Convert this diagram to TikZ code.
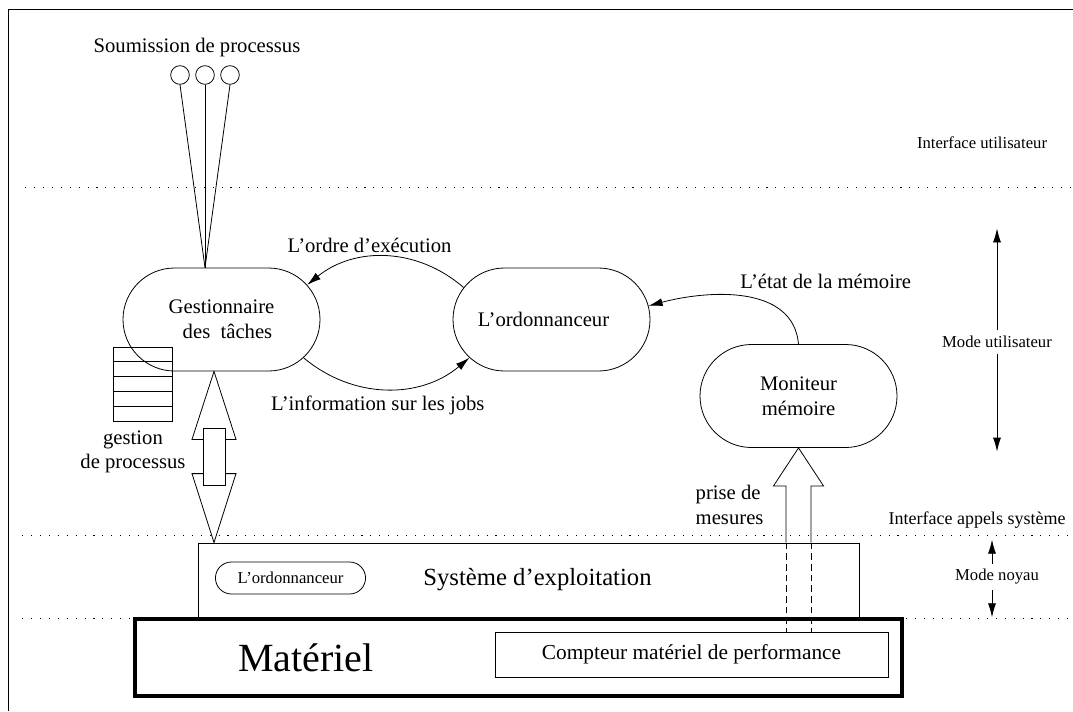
\documentclass[tikz,border=0pt]{standalone}
\usepackage{fontspec}
\setmainfont{Liberation Serif}
\usetikzlibrary{shapes.misc,arrows.meta,calc,positioning}

\begin{document}
\begin{tikzpicture}[x=0.75pt, y=-0.75pt, line width=0.6pt,
  >={Latex[length=10.5pt,width=6pt]},
  pilule/.style={rounded rectangle, draw, fill=white, minimum width=147.75pt, minimum height=77.25pt, inner sep=0pt, align=center, font=\fontsize{15.5}{18.5}\selectfont},
  texte/.style={font=\fontsize{15.5}{18.5}\selectfont, align=center, inner sep=1pt},
  petit/.style={font=\fontsize{12.5}{15}\selectfont, inner sep=4pt},
  pointille/.style={dash pattern=on 0.8pt off 5.9pt, line width=0.7pt}]
  \useasboundingbox (0,0) rectangle (1073,711);
  \draw (8,711) -- (8,9) -- (1073,9);
  \draw[pointille] (25,187) -- (1073,187);
  \draw[pointille] (22,535) -- (1073,535);
  \draw[pointille] (22,618) -- (1073,618);

  \node[texte] (soum) at (197,48) {Soumission de processus};
  \foreach \i/\x in {1/180,2/205,3/230}
    \node[circle, draw, minimum size=14pt, inner sep=0pt] (c\i) at (\x,75) {};
  \foreach \k in {0,...,4}
    \draw (113,{347+14.8*\k}) rectangle ++(59,14.8);
  \node[pilule, fill=none] (gest) at (221.5,319.5) {Gestionnaire\\ \hspace*{9pt}des\ \ tâches};
  \node[pilule, right of=gest, node distance=247.5pt] (ord) {L'ordonnanceur\hspace*{12pt}};
  \node[pilule] (mon) at (798.5,396) {Moniteur\\ mémoire};
  \coordinate (entree) at (c2 |- gest.north);
  \foreach \i in {1,2,3}
    \draw (c\i.south) -- (entree);
  \node[texte] (gproc) at (133,452) {gestion\\ de processus};

  \draw[->] (ord.160) to[bend right=40] node[texte, above, pos=0.6, yshift=2pt] {L'ordre d'exécution} (gest.22);
  \draw[->] (gest.-25) to[bend right=40] node[texte, below, pos=0.45, yshift=-4pt] {L'information sur les jobs} (ord.205);
  \draw[->] (mon.north) to[out=95, in=15] node[texte, pos=0.75, above right, xshift=32pt, yshift=5pt] {L'état de la mémoire} (ord.8);

  \node[draw, minimum width=495.75pt, minimum height=56.25pt, inner sep=0pt] (os) at (528.5,580.5) {};
  \node[font=\fontsize{18.5}{22}\selectfont] (ostxt) at (537.5,580) {Système d'exploitation};
  \node[rounded rectangle, draw, minimum width=119.25pt, minimum height=24pt, font=\fontsize{12.5}{15}\selectfont] (ordk) at (290.5,578) {L'ordonnanceur};
  \node[draw, line width=3.4pt, minimum width=575.25pt, minimum height=57.75pt] (mat) at (518.5,657.5) {};
  \node[font=\fontsize{30}{36}\selectfont] (mattxt) at (306,658) {Matériel};
  \node[draw, minimum width=294.75pt, minimum height=33.75pt, font=\fontsize{16}{19}\selectfont] (cpt) at (691.5,654.5) {Compteur matériel de performance};

  \coordinate (g1) at ($(gest.south)+(-7.5,0)$);
  \coordinate (g2) at (g1 |- os.north);
  \draw[fill=white] (g1) -- ++(22,68) -- ++(-44,0) -- cycle;
  \draw[fill=white] (g2) -- ++(22,-69) -- ++(-44,0) -- cycle;
  \draw[fill=white] ($(g1)+(-11,57)$) rectangle ($(g2)+(11,-57)$);

  \path (mon.south) ++(-12.5,38) coordinate (pg) ++(25,0) coordinate (pd);
  \draw (pg |- os.north) -- (pg) -- ++(-12.5,0) -- (mon.south) -- ($(pd)+(12.5,0)$) -- (pd) -- (pd |- os.north);
  \draw[dash pattern=on 5pt off 3pt] (pg |- os.north) -- (pg |- cpt.north) (pd |- os.north) -- (pd |- cpt.north);
  \node[texte, align=left, anchor=west] (prise) at (694,505) {prise de\\ mesures};

  \node[petit] (iu) at (982,143) {Interface utilisateur};
  \node[petit] (mu) at (997,342) {Mode utilisateur};
  \draw[->] (mu.north) -- ++(0,-102);
  \draw[->] (mu.south) -- ++(0,98);
  \node[petit, font=\fontsize{13.5}{16}\selectfont] (ias) at (977,520) {Interface appels système};
  \node[petit] (mn) at (997,577) {Mode noyau};
  \draw[->] ([xshift=-3.75pt]mn.north) -- ++(0,-24);
  \draw[->] ([xshift=-3.75pt]mn.south) -- ++(0,27);
\end{tikzpicture}
\end{document}
